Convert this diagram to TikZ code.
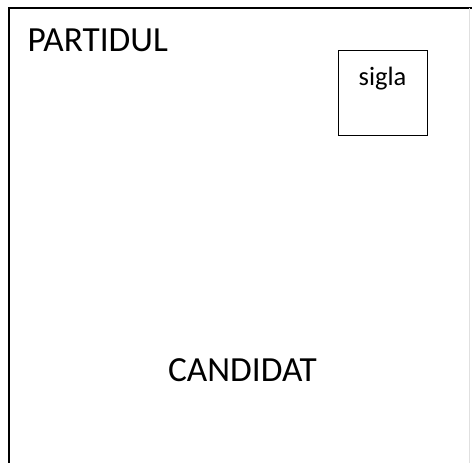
\documentclass[tikz,border=0pt]{standalone}
\usepackage{fontspec}
\setmainfont{Carlito}
\usepackage{tikz}
\usetikzlibrary{positioning}

\begin{document}
\begin{tikzpicture}[x=1pt,y=1pt,
	every node/.style={inner sep=0},
	titlu/.style={font=\fontsize{35.3}{40}\selectfont},
	casuta/.style={draw,line width=1pt,minimum width=89,minimum height=85,
		font=\fontsize{26.5}{30}\selectfont,text height=18,text depth=33}]
\useasboundingbox (0,0) rectangle (472,463);
% chenarul (jos nu se vede)
\coordinate (sj) at (9,0);
\coordinate (ss) at (9,455);
\coordinate (ds) at (472,455);
\draw[line width=1.2pt] (sj) -- (ss) -- (ds);
\draw[black!12,line width=.6pt] (469,455) -- (469,0);

\node[titlu,anchor=base west] (partid) at (27.5,411) {PARTIDUL};
\node[casuta] (sigla) at (382.5,369.5) {sigla};
\node[titlu,anchor=base] (candidat) at (242.5,81) {CANDIDAT};

\end{tikzpicture}
\end{document}
